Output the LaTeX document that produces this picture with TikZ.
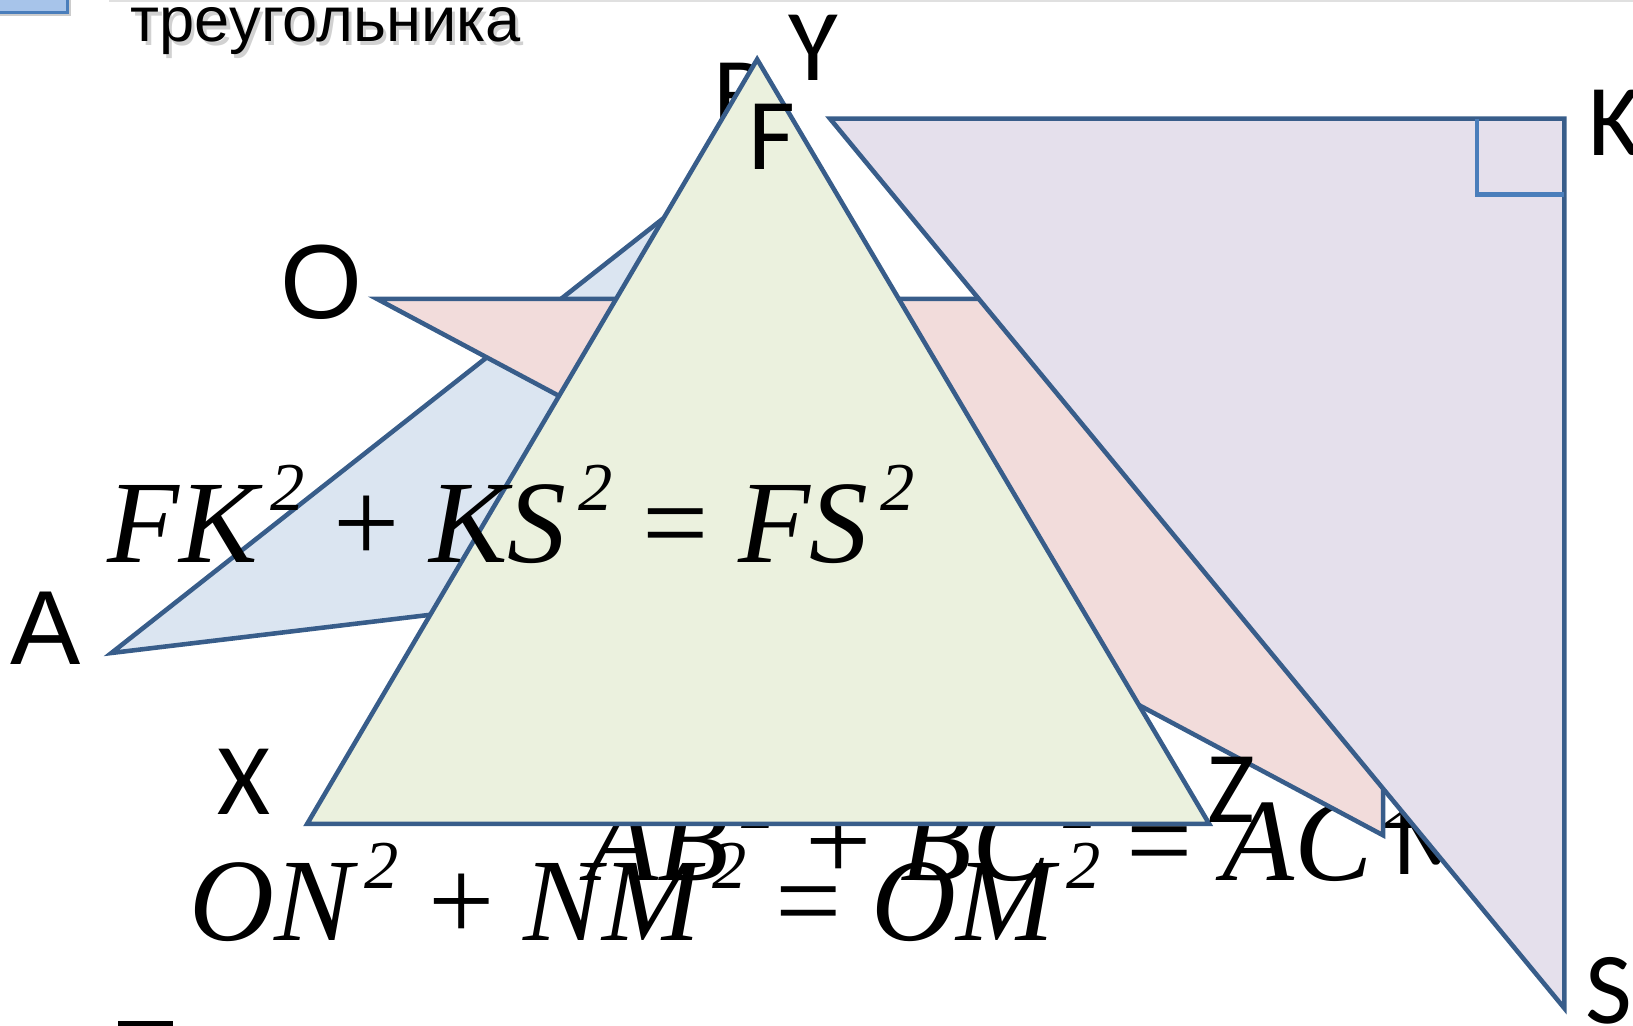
\documentclass[tikz,border=0pt]{standalone}
\usepackage{fontspec}
\setmainfont{Liberation Serif}
\newfontfamily\lblfont{Carlito}
\newfontfamily\ttlfont{Liberation Sans}
\definecolor{contorno}{HTML}{385D8A}
\definecolor{rellenoAzul}{HTML}{DBE5F1}
\definecolor{rellenoRosa}{HTML}{F2DCDB}
\definecolor{rellenoVerde}{HTML}{EBF1DE}
\definecolor{rellenoLila}{HTML}{E5E0EC}
\definecolor{marcaAzul}{HTML}{4A7EBB}
\definecolor{cajaAzul}{HTML}{A7C4EA}
\newcommand{\sq}{\hspace{0.1em}\raisebox{0.44em}{\fontsize{19.5}{19.5}\selectfont 2}}

\begin{document}
\begin{tikzpicture}[x=0.010415cm, y=-0.010415cm,
        tri/.style={draw=contorno, line width=1.3pt, line join=miter},
        lbl/.style={font=\lblfont\fontsize{29}{30}\selectfont, inner sep=0pt, anchor=base west},
        lblGrande/.style={font=\ttlfont\fontsize{30}{31}\selectfont, inner sep=0pt, anchor=base west},
        eq/.style={font=\fontsize{33.5}{36}\selectfont\itshape, inner sep=0pt, anchor=base west},
        ttl/.style={font=\ttlfont\fontsize{18}{20}\selectfont, inner sep=0pt, anchor=base west}
    ]
        \useasboundingbox (0,0) rectangle (1568,985);
        % restos de la cabecera
        \draw[black!12, line width=0.6pt] (105,1) -- (1568,1);
        \fill[black!20] (-5,-5) rectangle (68,15);
        \filldraw[fill=cajaAzul, draw=marcaAzul, line width=0.8pt] (-5,-5) rectangle (65,12);
        \node[ttl, text=black!18] (ttlSombra) at (128,44) {треугольника};
        \node[ttl] (ttl) at (125,40) {треугольника};
        \fill (113,980) rectangle (166,988);

        \coordinate (A) at (107,627);
        \coordinate (B) at (700,160);
        \coordinate (C) at (900,532);
        \coordinate (O) at (362,287);
        \coordinate (N) at (1328,287);
        \coordinate (M) at (1328,802);
        \coordinate (X) at (295,791);
        \coordinate (Y) at (727,57);
        \coordinate (Z) at (1161,791);
        \coordinate (F) at (797,114);
        \coordinate (K) at (1502,114);
        \coordinate (S) at (1502,968);

        \filldraw[tri, fill=rellenoAzul] (A) -- (B) -- (C) -- cycle;
        \node[eq] (eqAB) at (562,845) {AB\sq\ {\upshape +} BC\sq\ {\upshape =} AC\sq};
        \node[lbl] (lB) at (684,123) {B};
        \node[lbl] (lM) at (1336,840) {M};
        \filldraw[tri, fill=rellenoRosa] (O) -- (N) -- (M) -- cycle;
        \filldraw[tri, fill=rellenoVerde] (X) -- (Y) -- (Z) -- cycle;
        \filldraw[tri, fill=rellenoLila] (F) -- (K) -- (S) -- cycle;
        % angulo recto en K
        \coordinate (Kv) at (1418,114);
        \coordinate (Kc) at (1418,187);
        \coordinate (Kh) at (1502,187);
        \draw[marcaAzul, line width=1.3pt] (Kv) -- (Kc) -- (Kh);

        \node[lblGrande] (lA) at (9,638) {A};
        \node[lblGrande] (lO) at (269,306) {O};
        \node[lbl] (lY) at (756,77) {Y};
        \node[lbl] (lF) at (718,163) {F};
        \node[lbl] (lX) at (208,782) {X};
        \node[lbl] (lZ) at (1159,790) {Z};
        \node[lbl] (lK) at (1525,149) {K};
        \node[lbl] (lS) at (1522,983) {S};

        \node[eq] (eqFK) at (103,540) {FK\sq\ {\upshape +} KS\sq\ {\upshape =} FS\sq};
        \node[eq] (eqON) at (181,903) {ON\sq\ {\upshape +} NM\sq\ {\upshape =} OM\sq};
    \end{tikzpicture}
\end{document}
